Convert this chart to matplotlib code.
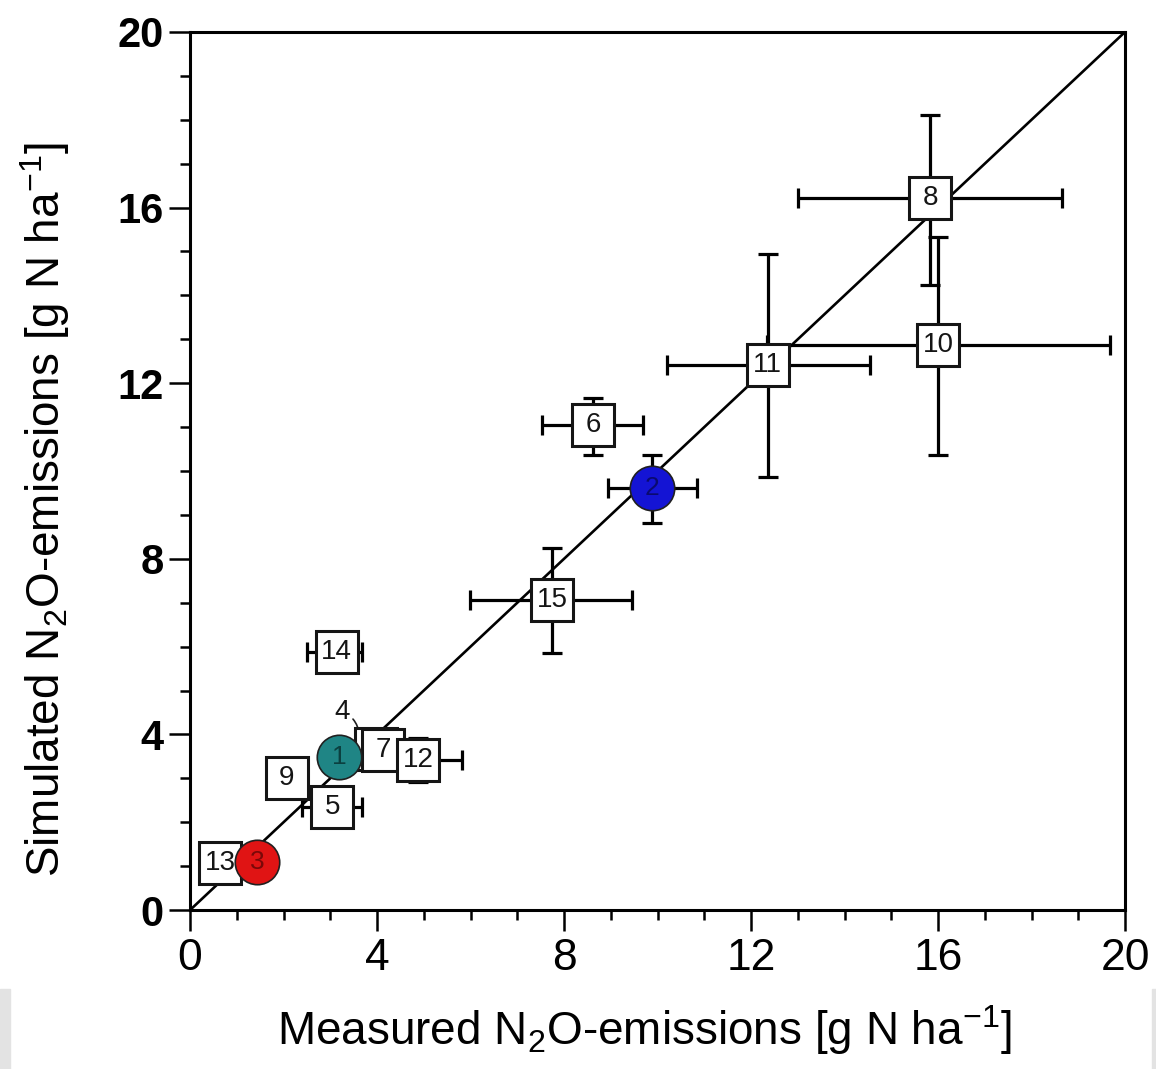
import numpy as np
import matplotlib
matplotlib.use("Agg")
import matplotlib.pyplot as plt
from matplotlib.patches import Rectangle

plt.rcParams['font.family'] = ['Liberation Sans', 'DejaVu Sans']
plt.rcParams['mathtext.fontset'] = 'custom'
plt.rcParams['mathtext.rm'] = 'Liberation Sans'

# site numbers, measured (x) and simulated (y) N2O emissions
ids = ['4', '7', '12', '9', '5', '13', '14', '6', '15', '11', '10', '8', '1', '2', '3']
measured = [3.98, 4.13, 4.88, 2.07, 3.04, 0.64, 3.14, 8.62, 7.74, 12.36, 16.0, 15.83, 3.19, 9.88, 1.43]
simulated = [3.66, 3.64, 3.42, 3.0, 2.35, 1.07, 5.88, 11.05, 7.06, 12.41, 12.87, 16.22, 3.49, 9.61, 1.09]

# error bar ends (lower / upper), same value as the point where no bar is drawn
x_low = [3.98, 4.13, 3.94, 2.07, 2.40, 0.64, 2.50, 7.53, 5.99, 10.2, 12.34, 13.0, 3.19, 8.94, 1.43]
x_high = [3.98, 4.13, 5.82, 2.07, 3.68, 0.64, 3.68, 9.69, 9.45, 14.55, 19.68, 18.65, 3.19, 10.84, 1.43]
y_low = [3.66, 3.64, 2.92, 3.0, 2.35, 1.07, 5.88, 10.36, 5.85, 9.86, 10.36, 14.24, 3.49, 8.82, 1.09]
y_high = [3.66, 3.64, 3.92, 3.0, 2.35, 1.07, 5.88, 11.66, 8.25, 14.94, 15.33, 18.11, 3.49, 10.36, 1.09]

circle_fill = {'1': '#1f8585', '2': '#1414d4', '3': '#e01414'}
circle_text = {'1': '#0b4040', '2': '#0a0a70', '3': '#7a0808'}

fig = plt.figure(figsize=(11.56, 10.69), dpi=100)
ax = fig.add_axes([0.1644, 0.1487, 0.8088, 0.8214])

ax.plot([0, 20], [0, 20], color='black', lw=1.9, zorder=1)

for i, name in enumerate(ids):
    x, y = measured[i], simulated[i]
    xe = [[x - x_low[i]], [x_high[i] - x]]
    ye = [[y - y_low[i]], [y_high[i] - y]]
    z = 3 + i * 0.1
    ax.errorbar([x], [y], xerr=xe, yerr=ye, fmt='none', ecolor='black',
                elinewidth=2.3, capsize=7, capthick=2.3, zorder=2)
    if name in circle_fill:
        ax.plot(x, y, 'o', ms=32, mfc=circle_fill[name], mec='#202020', mew=1.2, zorder=z)
        ax.text(x, y, name, ha='center', va='center', fontsize=19,
                color=circle_text[name], zorder=z + 0.05)
    else:
        ax.plot(x, y, 's', ms=30, mfc='white', mec='#151515', mew=2.2, zorder=z)
        if name != '4':
            ax.text(x, y, name, ha='center', va='center', fontsize=20,
                    color='#151515', zorder=z + 0.05)

# label of site 4, hidden behind site 7
ax.annotate('4', xy=(3.62, 3.98), xytext=(3.26, 4.52), ha='center', va='center',
            fontsize=20, color='#151515',
            arrowprops=dict(arrowstyle='-', color='#202020', lw=1.2,
                            connectionstyle='arc3,rad=-0.3',
                            shrinkA=0, shrinkB=0), zorder=2.5)

ax.set_xlim(0, 20)
ax.set_ylim(0, 20)
ax.set_xticks(np.arange(0, 21, 4))
ax.set_yticks(np.arange(0, 21, 4))
ax.set_xticks(np.arange(0, 21, 1), minor=True)
ax.set_yticks(np.arange(0, 21, 1), minor=True)
ax.tick_params(which='both', direction='out', width=1.8, top=False, right=False)
ax.tick_params(which='major', length=15)
ax.tick_params(which='minor', length=7.5)
ax.tick_params(axis='x', pad=5, labelsize=32)
ax.tick_params(axis='y', pad=4, labelsize=30)
for lab in ax.get_yticklabels():
    lab.set_fontweight('bold')
for s in ax.spines.values():
    s.set_linewidth(2.2)

fig.text(0.557, 0.0225, r'Measured N$\mathregular{_2}$O-emissions [g N ha$\mathregular{^{-1}}$]',
         ha='center', va='baseline', fontsize=33)
fig.text(0.039, 0.523, r'Simulated N$\mathregular{_2}$O-emissions [g N ha$\mathregular{^{-1}}$]',
         ha='center', va='center', rotation=90, fontsize=33)

# grey page edges at the bottom corners
fig.patches.append(Rectangle((0, 0), 10 / 1156, 80 / 1069, transform=fig.transFigure,
                             color='#e3e3e3', zorder=0))
fig.patches.append(Rectangle((1 - 4 / 1156, 0), 4 / 1156, 80 / 1069, transform=fig.transFigure,
                             color='#e3e3e3', zorder=0))

fig.savefig('out.png', dpi=100)
